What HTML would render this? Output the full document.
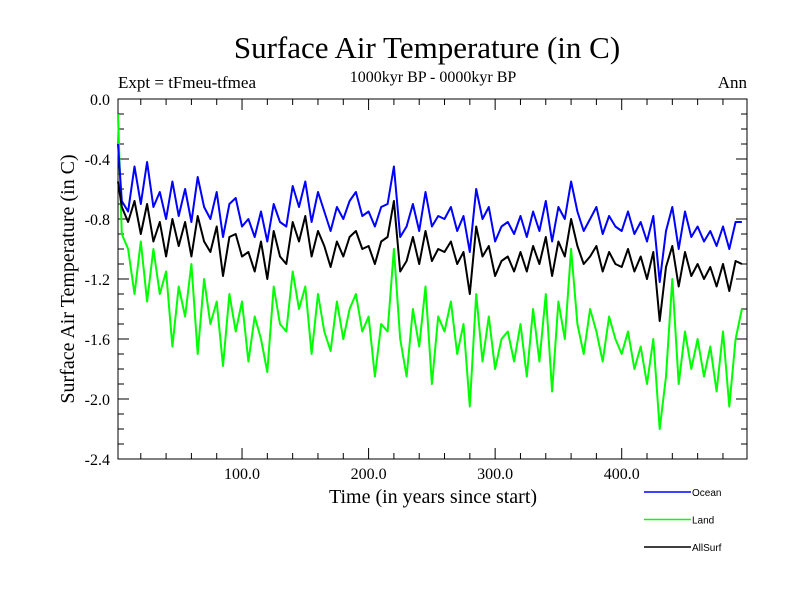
<!DOCTYPE html>
<html><head><meta charset="utf-8"><style>
body{margin:0;background:#fff}
svg{display:block}
text{font-family:"Liberation Serif",serif;fill:#000}
</style></head><body>
<svg id="chart" width="800" height="600" viewBox="0 0 800 600">
<text x="427" y="58" font-size="31" text-anchor="middle">Surface Air Temperature (in C)</text>
<text x="118" y="88" font-size="17">Expt = tFmeu-tfmea</text>
<text x="433" y="82" font-size="16" text-anchor="middle">1000kyr BP - 0000kyr BP</text>
<text x="747" y="88" font-size="17" text-anchor="end">Ann</text>
<text x="433" y="503" font-size="20" text-anchor="middle">Time (in years since start)</text>
<text transform="translate(74,279) rotate(-90)" font-size="20" text-anchor="middle">Surface Air Temperature (in C)</text>
<g id="axes"></g>
<g id="series"></g>
<g id="legend"></g>
</svg>
<script>
const years=[0,5,10,15,20,25,30,35,40,45,50,55,60,65,70,75,80,85,90,95,100,105,110,115,120,125,130,135,140,145,150,155,160,165,170,175,180,185,190,195,200,205,210,215,220,225,230,235,240,245,250,255,260,265,270,275,280,285,290,295,300,305,310,315,320,325,330,335,340,345,350,355,360,365,370,375,380,385,390,395,400,405,410,415,420,425,430,435,440,445,450,455,460,465,470,475,480,485,490,495];
const ocean=[-0.30,-0.68,-0.75,-0.45,-0.70,-0.42,-0.72,-0.62,-0.80,-0.55,-0.78,-0.60,-0.82,-0.52,-0.72,-0.80,-0.62,-0.92,-0.70,-0.66,-0.85,-0.80,-0.92,-0.75,-0.95,-0.70,-0.82,-0.85,-0.58,-0.72,-0.55,-0.82,-0.62,-0.75,-0.88,-0.72,-0.80,-0.68,-0.62,-0.78,-0.75,-0.85,-0.72,-0.70,-0.45,-0.92,-0.85,-0.70,-0.88,-0.62,-0.85,-0.78,-0.80,-0.72,-0.88,-0.78,-1.02,-0.60,-0.80,-0.72,-0.95,-0.85,-0.82,-0.90,-0.78,-0.92,-0.75,-0.88,-0.68,-0.95,-0.72,-0.80,-0.55,-0.75,-0.88,-0.80,-0.72,-0.90,-0.78,-0.85,-0.88,-0.75,-0.90,-0.82,-0.95,-0.78,-1.22,-0.88,-0.72,-1.00,-0.75,-0.92,-0.85,-0.95,-0.88,-0.98,-0.85,-1.00,-0.82,-0.82];
const land=[-0.10,-0.90,-1.00,-1.30,-0.95,-1.35,-1.00,-1.30,-1.15,-1.65,-1.25,-1.45,-1.10,-1.70,-1.20,-1.50,-1.35,-1.78,-1.30,-1.55,-1.35,-1.75,-1.45,-1.60,-1.82,-1.25,-1.50,-1.55,-1.15,-1.40,-1.25,-1.70,-1.30,-1.55,-1.68,-1.35,-1.60,-1.40,-1.30,-1.55,-1.45,-1.85,-1.50,-1.55,-1.00,-1.60,-1.85,-1.40,-1.65,-1.25,-1.90,-1.45,-1.55,-1.35,-1.70,-1.50,-2.05,-1.30,-1.75,-1.45,-1.80,-1.60,-1.55,-1.75,-1.50,-1.85,-1.40,-1.75,-1.30,-1.95,-1.35,-1.60,-1.00,-1.50,-1.70,-1.40,-1.55,-1.75,-1.45,-1.60,-1.70,-1.55,-1.80,-1.65,-1.90,-1.60,-2.20,-1.85,-1.20,-1.90,-1.55,-1.80,-1.60,-1.85,-1.65,-1.95,-1.55,-2.05,-1.60,-1.40];
const allsurf=[-0.55,-0.72,-0.82,-0.68,-0.90,-0.70,-0.95,-0.82,-1.05,-0.80,-0.98,-0.82,-1.05,-0.78,-0.95,-1.02,-0.85,-1.18,-0.92,-0.90,-1.05,-1.02,-1.15,-0.95,-1.20,-0.88,-1.05,-1.10,-0.82,-0.95,-0.78,-1.05,-0.88,-0.98,-1.12,-0.95,-1.05,-0.92,-0.88,-1.00,-0.98,-1.10,-0.95,-0.92,-0.68,-1.15,-1.08,-0.92,-1.10,-0.88,-1.08,-1.00,-1.02,-0.95,-1.10,-1.02,-1.30,-0.85,-1.05,-0.98,-1.18,-1.08,-1.05,-1.15,-1.02,-1.15,-0.98,-1.10,-0.92,-1.18,-0.95,-1.05,-0.80,-0.98,-1.10,-1.05,-0.98,-1.15,-1.02,-1.10,-1.12,-1.00,-1.15,-1.05,-1.20,-1.02,-1.48,-1.12,-0.98,-1.25,-1.02,-1.18,-1.10,-1.20,-1.12,-1.25,-1.10,-1.28,-1.08,-1.10];
const yTicks=["0.0","-0.4","-0.8","-1.2","-1.6","-2.0","-2.4"];
const xTicks=["100.0","200.0","300.0","400.0"];
const seriesNames=["Ocean","Land","AllSurf"];

const NS="http://www.w3.org/2000/svg";
const L=118,R=747,T=99,B=459;
const X0=2,X1=499,Y0=0,Y1=-2.4;
const xs=v=>L+(v-X0)/(X1-X0)*(R-L);
const ys=v=>T+(v-Y0)/(Y1-Y0)*(B-T);
function mk(tag,attrs,parent){const e=document.createElementNS(NS,tag);for(const k in attrs)e.setAttribute(k,attrs[k]);parent.appendChild(e);return e;}
const axes=document.getElementById('axes');
const frame=mk('rect',{x:L,y:T,width:R-L,height:B-T,fill:'none',stroke:'#000','stroke-width':1},axes);


for(let v=0;v>=-2.4001;v-=0.1){
  const y=ys(v);const major=Math.abs(Math.round(v*10))%4===0;const len=major?11:6;
  const t1=mk('line',{x1:L,x2:L+len,y1:y,y2:y,stroke:'#000'},axes);
  
  
  const t2=mk('line',{x1:R,x2:R-len,y1:y,y2:y,stroke:'#000'},axes);
  
  
}
yTicks.forEach(s=>{
  const t=mk('text',{x:L-8,y:ys(parseFloat(s))+6,'font-size':16,'text-anchor':'end'},axes);t.textContent=s;
  
  
});
for(let v=20;v<=X1;v+=20){
  const x=xs(v);const major=v%100===0;const len=major?11:6;
  const t1=mk('line',{x1:x,x2:x,y1:B,y2:B-len,stroke:'#000'},axes);
  
  
  const t2=mk('line',{x1:x,x2:x,y1:T,y2:T+len,stroke:'#000'},axes);
  
  
}
xTicks.forEach(s=>{
  const t=mk('text',{x:xs(parseFloat(s)),y:B+20,'font-size':16,'text-anchor':'middle'},axes);t.textContent=s;
  
  
});
const sg=document.getElementById('series');
const defs=[[land,'#00ff00','land-line'],[ocean,'#0000ff','ocean-line'],[allsurf,'#000000','allsurf-line']];
defs.forEach(([arr,col,name])=>{
  const d=arr.map((v,i)=>(i?'L':'M')+xs(Math.max(years[i],X0)).toFixed(1)+','+ys(v).toFixed(1)).join('');
  const p=mk('path',{d:d,fill:'none',stroke:col,'stroke-width':2,'stroke-linejoin':'round'},sg);
  
  
});
const lg=document.getElementById('legend');
const lcol=['#0000ff','#00ff00','#000000'];
seriesNames.forEach((n,i)=>{
  const y=492+i*27.5;
  const ln=mk('line',{x1:644,x2:691,y1:y,y2:y,stroke:lcol[i],'stroke-width':1.5},lg);
  
  
  const t=mk('text',{x:692,y:y+4,'font-size':10,style:'font-family:"Liberation Sans",sans-serif'},lg);t.textContent=n;
  
  
});
</script>
</body></html>
